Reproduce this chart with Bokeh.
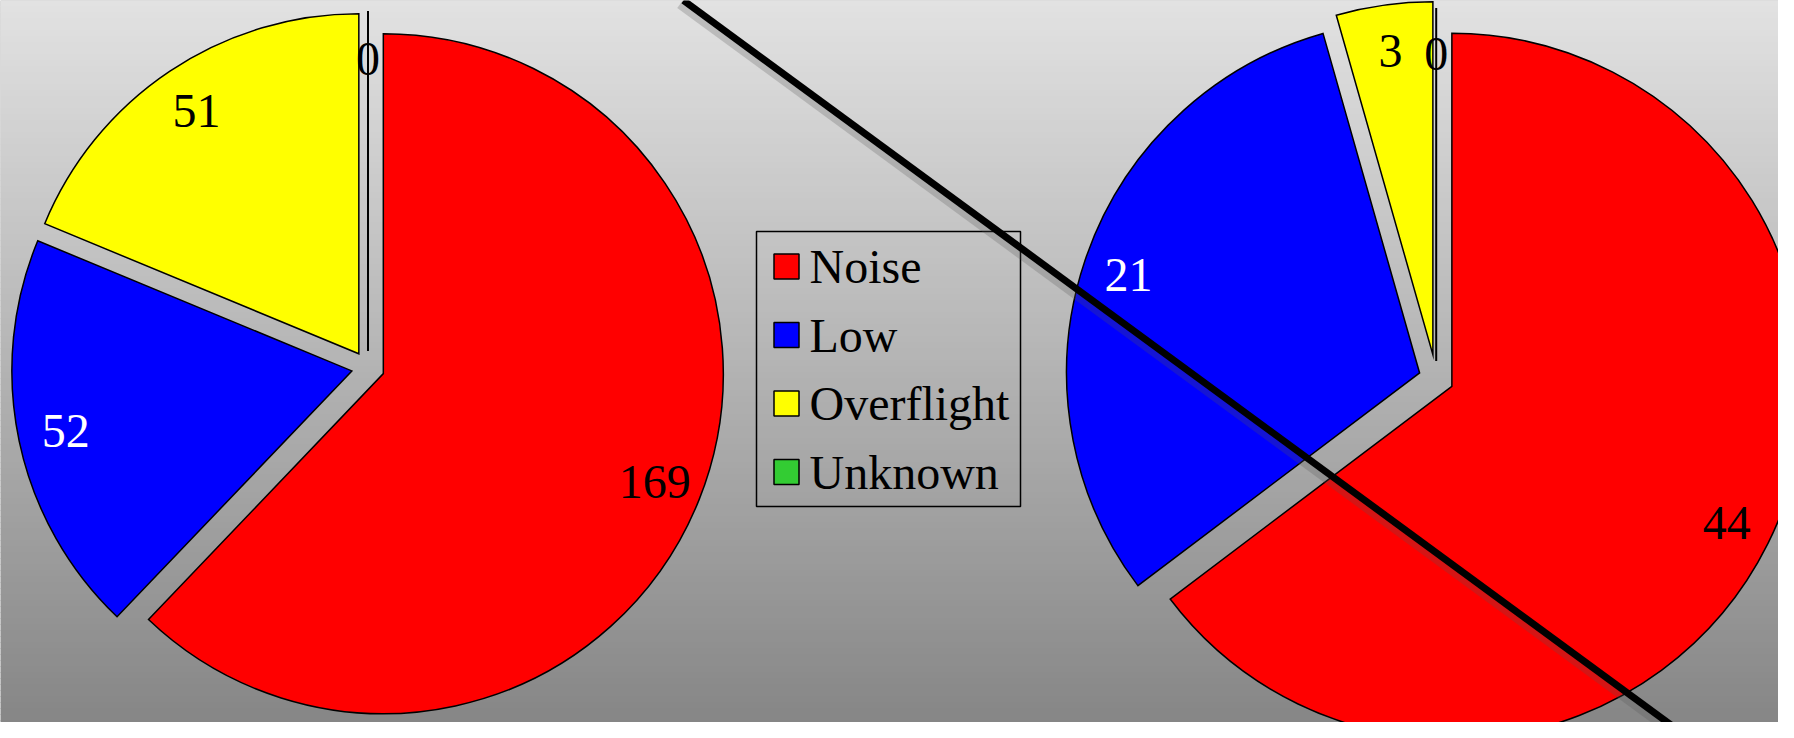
import numpy as np
from bokeh.plotting import figure
from bokeh.models import Range1d, ColumnDataSource
from bokeh.core.properties import value
from bokeh.embed import file_html
from bokeh.resources import INLINE

# ---- data ----
categories = ["Noise", "Low", "Overflight", "Unknown"]
left_values = [169, 52, 51, 0]
right_values = [44, 21, 3, 0]
colors = ["#ff0000", "#0000ff", "#ffff00", "#33cc33"]
label_colors = ["black", "white", "black", "black"]

W, H = 1794, 738
FONT = value("Liberation Serif")


def Y(y):
    return H - np.asarray(y, dtype=float)


p = figure(width=1778, height=722, x_range=Range1d(0, 1778), y_range=Range1d(16, 738),
           output_backend="svg", toolbar_location=None, min_border=0,
           x_axis_type=None, y_axis_type=None)
p.grid.visible = False
p.outline_line_color = None
p.background_fill_color = "#b3b3b3"
p.border_fill_color = "#b3b3b3"

# ---- gradient background (styling) ----
nb = 123
edges = np.linspace(0, H, nb + 1)
mids = (edges[:-1] + edges[1:]) / 2
top_c, bot_c = 226, 132
band_cols = ["#%02x%02x%02x" % ((int(round(top_c + (bot_c - top_c) * m / H)),) * 3) for m in mids]
p.quad(left=0, right=W, top=Y(edges[:-1]) + 0.5, bottom=Y(edges[1:]) - 0.5,
       fill_color=band_cols, line_color=None)


def add_pie(values, cx, cy, r, explode, lab_frac):
    vals = np.array(values, dtype=float)
    d = np.array(explode, dtype=float)
    frac = vals / vals.sum()
    a1 = np.cumsum(frac) * 2 * np.pi
    a0 = a1 - frac * 2 * np.pi
    mid = (a0 + a1) / 2
    ux, uy = np.sin(mid), np.cos(mid)
    ox = cx + d * ux
    oy = Y(cy) + d * uy
    start = np.pi / 2 - a1
    end = np.pi / 2 - a0
    nz = vals > 0
    src = ColumnDataSource(dict(x=ox[nz], y=oy[nz], start=start[nz], end=end[nz],
                                color=[c for c, k in zip(colors, nz) if k]))
    p.wedge(x="x", y="y", radius=r, start_angle="start", end_angle="end",
            direction="anticlock", fill_color="color", line_color="black",
            line_width=1.5, line_join="miter", source=src)
    z = ~nz
    if z.any():
        p.segment(x0=ox[z], y0=oy[z], x1=ox[z] + r * ux[z], y1=oy[z] + r * uy[z],
                  line_color="black", line_width=2)
    lx = ox + lab_frac * r * ux
    ly = oy + lab_frac * r * uy
    p.text(x=lx, y=ly, text=[str(v) for v in values], text_color=label_colors,
           text_font=FONT, text_font_size="48px", text_align="center",
           text_baseline="middle")


add_pie(left_values, 367.5, 367, 340, [16.5, 16.5, 16.5, 16.5], 0.86)
add_pie(right_values, 1435.7, 378, 353, [17.5, 17.5, 24, 17.5], 0.87)

# ---- legend (drawn manually) ----
lg_left, lg_right, lg_top, lg_bottom = 756, 1020, 231, 506
p.quad(left=lg_left, right=lg_right, top=Y(lg_top), bottom=Y(lg_bottom),
       fill_alpha=0, line_color="black", line_width=1.5)
rows = np.arange(len(categories))
row_y = Y(266 + 68.5 * rows)
p.rect(x=786, y=row_y, width=25, height=25, fill_color=colors,
       line_color="black", line_width=1.5)
p.text(x=809, y=row_y, text=categories, text_color="black",
       text_font=FONT, text_font_size="48px", text_align="left",
       text_baseline="middle")

# ---- diagonal stroke ----
p.line(x=[680, 1686], y=[Y(3), Y(741)], line_color="#555555", line_alpha=0.25, line_width=11)
p.line(x=[683, 1689], y=[Y(0), Y(738)], line_color="black", line_width=7)

open("out.html", "w").write(file_html(p, INLINE))
